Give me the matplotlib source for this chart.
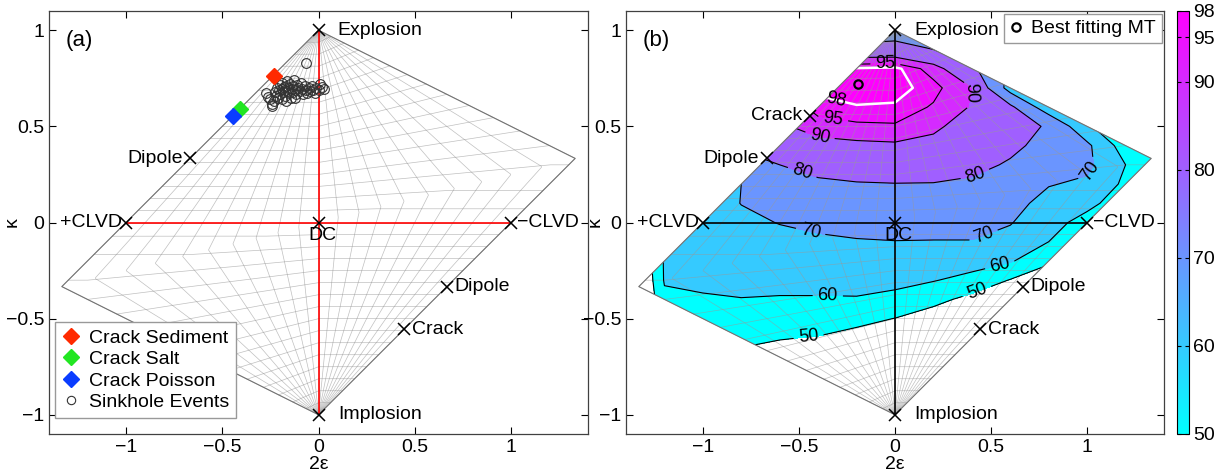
import numpy as np
import matplotlib
matplotlib.use("Agg")
from matplotlib import pyplot as plt
from matplotlib import colors
from matplotlib import cm
from matplotlib.patches import Polygon
from matplotlib.lines import Line2D

plt.rcParams['font.family'] = ['Liberation Sans', 'DejaVu Sans']
plt.rcParams['font.size'] = 14

# reference source types as normalised eigenvalues (m1 >= m2 >= m3)
source_names = ['Explosion', 'Implosion', '+CLVD', '\u2212CLVD', 'DC',
                'Dipole', 'Dipole', 'Crack', 'Crack']
source_eigs = [(1, 1, 1), (-1, -1, -1), (1, -0.5, -0.5), (0.5, 0.5, -1), (1, 0, -1),
               (1, 0, 0), (0, 0, -1), (1, 1/3, 1/3), (-1/3, -1/3, -1)]
# outline of the source-type plot (corners)
outline_eigs = [(1, 1, 1), (1, 1, -1), (-1, -1, -1), (1, -1, -1)]

# crack models and sinkhole event solutions (u = 2eps, v = kappa)
crack_names = ['Crack Sediment', 'Crack Salt', 'Crack Poisson']
crack_colors = ['#ff2a00', '#22e622', '#0a3cff']
crack_u = [-0.232, -0.406, -0.444]
crack_v = [0.764, 0.591, 0.556]

event_u = [-0.066, -0.275, -0.262, -0.250, -0.243, -0.240, -0.232, -0.225, -0.222, -0.215,
           -0.210, -0.205, -0.200, -0.198, -0.192, -0.188, -0.185, -0.180, -0.176, -0.172,
           -0.168, -0.165, -0.160, -0.157, -0.152, -0.148, -0.145, -0.140, -0.135, -0.130,
           -0.126, -0.120, -0.115, -0.110, -0.105, -0.098, -0.092, -0.085, -0.080, -0.072,
           -0.065, -0.058, -0.050, -0.042, -0.035, -0.028, -0.020, -0.012, 0.000, 0.008,
           -0.190, -0.170, -0.120, 0.020, 0.030]
event_v = [0.832, 0.672, 0.655, 0.640, 0.618, 0.606, 0.632, 0.680, 0.660, 0.700,
           0.645, 0.688, 0.715, 0.668, 0.695, 0.725, 0.678, 0.705, 0.690, 0.660,
           0.712, 0.735, 0.685, 0.700, 0.672, 0.720, 0.650, 0.695, 0.708, 0.680,
           0.742, 0.690, 0.668, 0.715, 0.700, 0.682, 0.725, 0.693, 0.670, 0.708,
           0.688, 0.672, 0.700, 0.685, 0.712, 0.690, 0.676, 0.700, 0.688, 0.718,
           0.640, 0.630, 0.645, 0.705, 0.695]

# waveform fit (%) over the source-type plane
fit_u = [-1.4, -1.2, -1.0, -0.8, -0.6, -0.4, -0.2, 0.0, 0.2, 0.4, 0.6, 0.8, 1.0, 1.2, 1.4]
fit_v = [1.0, 0.9, 0.8, 0.7, 0.6, 0.5, 0.4, 0.3, 0.2, 0.1, 0.0,
         -0.1, -0.2, -0.3, -0.4, -0.5, -0.6, -0.7, -0.8]
fit_pct = [
    [40, 40, 45, 55, 62, 68, 72, 75, 72, 65, 58, 50, 45, 40, 40],
    [40, 45, 52, 60, 68, 75, 84, 84, 80, 72, 64, 55, 45, 40, 40],
    [45, 55, 65, 78, 88, 96, 98.4, 99, 93, 82, 68, 55, 45, 40, 40],
    [48, 58, 70, 82, 93, 98.5, 99.5, 99.3, 96.5, 90, 66, 52, 45, 40, 40],
    [50, 60, 70, 80, 90, 97.3, 97.8, 97.6, 94.5, 89.5, 82, 64, 50, 42, 40],
    [52, 62, 72, 82, 89, 92.5, 94.2, 94.5, 91, 87.5, 82, 79.5, 62, 48, 40],
    [55, 65, 74, 82, 86, 88, 88.5, 89, 88.5, 85, 82, 77, 72, 55, 45],
    [55, 63, 70, 75, 80, 83, 84, 84.5, 84, 82.5, 79, 75, 72, 60, 50],
    [45, 58, 64, 70, 75.5, 78.5, 79.5, 79.8, 79.7, 78.5, 76, 70.5, 68.5, 58, 48],
    [42, 58, 65, 70.2, 73.5, 75.5, 76.5, 77, 76.5, 75, 73, 67, 63, 54, 45],
    [38, 58, 66, 68, 70.3, 72, 72.5, 73.5, 73, 72, 70.5, 64, 56, 45, 40],
    [32, 59, 64.5, 66, 67.5, 68.5, 69.5, 69.8, 69.7, 69.8, 67, 60, 50, 42, 40],
    [28, 61, 63, 64, 65, 65.5, 66, 66, 65.5, 64, 61, 52, 44, 40, 38],
    [25, 60.8, 62, 62, 62, 62, 62.5, 62.5, 60.5, 57, 49.5, 42, 38, 36, 35],
    [25, 58, 59, 59.8, 59.5, 59.5, 59.5, 57.5, 53, 47, 42, 38, 36, 35, 35],
    [25, 50, 54, 56, 55.5, 55, 52.5, 49.8, 45, 41, 38, 36, 35, 35, 35],
    [25, 45, 50, 52, 50.5, 49.5, 47, 44, 41, 38, 36, 35, 35, 35, 35],
    [25, 40, 45, 48, 46, 45, 43, 40, 38, 36, 35, 35, 35, 35, 35],
    [25, 38, 40, 42, 40, 40, 38, 36, 35, 35, 35, 35, 35, 35, 35],
]
fit_levels = [50, 60, 70, 80, 90, 95, 98]
best_u, best_v = -0.19, 0.72


def hudson(eigs):
    m = np.asarray(eigs, dtype=float)
    m = m / np.abs(m).max(axis=-1, keepdims=True)
    u = -2.0 / 3.0 * (m[..., 0] + m[..., 2] - 2 * m[..., 1])
    v = m.sum(axis=-1) / 3.0
    return u, v


def tk_to_uv(T, k):
    # eigenvalues for CLVD parameter T and isotropic fraction k
    d1 = np.where(T <= 0, 1.0, 1 - T / 2)
    d2 = T / 2
    d3 = np.where(T <= 0, -1 - T / 2, -1.0)
    a = 1 - np.abs(k)
    return hudson(np.stack([k + a * d1, k + a * d2, k + a * d3], axis=-1))


def draw_frame(ax, axis_color, grid_color, grid_alpha, ylabel_x):
    s = np.linspace(-1, 1, 801)
    for T in np.linspace(-1, 1, 21):
        u, v = tk_to_uv(np.full_like(s, T), s)
        ax.plot(u, v, color=grid_color, lw=0.5, alpha=grid_alpha, zorder=2)
    for k in np.arange(-15, 16) / 16:
        u, v = tk_to_uv(s, np.full_like(s, k))
        ax.plot(u, v, color=grid_color, lw=0.5, alpha=grid_alpha, zorder=2)
    ou, ov = hudson(outline_eigs)
    ax.plot(np.append(ou, ou[0]), np.append(ov, ov[0]), color='0.45', lw=0.8, zorder=3)
    ax.plot([0, 0], [-1, 1], color=axis_color, lw=1.2, zorder=4)
    ax.plot([-1, 1], [0, 0], color=axis_color, lw=1.2, zorder=4)

    ax.set_xlim(-1.4, 1.4)
    ax.set_ylim(-1.1, 1.1)
    ax.set_xticks([-1, -0.5, 0, 0.5, 1])
    ax.set_yticks([-1, -0.5, 0, 0.5, 1])
    ax.set_xticklabels(['\u22121', '\u22120.5', '0', '0.5', '1'])
    ax.set_yticklabels(['\u22121', '\u22120.5', '0', '0.5', '1'])
    ax.tick_params(direction='in', top=True, right=True, length=5, width=0.8, labelsize=14)
    for sp in ax.spines.values():
        sp.set_color('0.25')
        sp.set_linewidth(0.9)
    ax.set_xlabel('2\u03b5', labelpad=0)
    ax.set_ylabel('\u03ba')
    ax.yaxis.set_label_coords(ylabel_x, 0.5)
    return ou, ov


label_pos = {
    'Explosion': (0.1, 1.0, 'left', 'center'),
    'Implosion': (0.1, -1.0, 'left', 'center'),
    '+CLVD': (-1.02, 0.0, 'right', 'center'),
    '\u2212CLVD': (1.03, 0.0, 'left', 'center'),
    'DC': (0.02, -0.025, 'center', 'top'),
}


def draw_sources(ax, skip_upper_crack):
    su, sv = hudson(source_eigs)
    for name, u, v in zip(source_names, su, sv):
        if skip_upper_crack and name == 'Crack' and v > 0:
            continue
        ax.plot(u, v, 'x', color='k', ms=9, mew=1.1, zorder=6)
        if name in label_pos:
            x, y, ha, va = label_pos[name]
        elif v > 0:
            x, y, ha, va = u - 0.04, v, 'right', 'center'
        else:
            x, y, ha, va = u + 0.04, v, 'left', 'center'
        ax.text(x, y, name, ha=ha, va=va, fontsize=14, zorder=7)


fig = plt.figure(figsize=(12.21, 4.71), dpi=100)
ax_a = fig.add_axes([49 / 1221, 37 / 471, 539 / 1221, 423 / 471])
ax_b = fig.add_axes([626 / 1221, 37 / 471, 538 / 1221, 423 / 471])
cax = fig.add_axes([1177 / 1221, 37 / 471, 11.5 / 1221, 423 / 471])

# (a) crack models and sinkhole events
draw_frame(ax_a, 'red', '0.55', 0.55, -0.052)
draw_sources(ax_a, skip_upper_crack=True)
handles = []
for name, c, u, v in zip(crack_names, crack_colors, crack_u, crack_v):
    ax_a.plot(u, v, 'D', color=c, mec=c, ms=8.5, zorder=8)
    handles.append(Line2D([], [], ls='none', marker='D', color=c, mec=c, ms=8.5, label=name))
ax_a.plot(event_u, event_v, 'o', mfc='none', mec='0.2', ms=7, mew=0.8, zorder=7)
handles.append(Line2D([], [], ls='none', marker='o', mfc='none', mec='0.2', ms=6,
                      mew=0.8, label='Sinkhole Events'))
ax_a.legend(handles=handles, loc='lower left', bbox_to_anchor=(6 / 539, 16 / 423),
            borderaxespad=0, fancybox=False, edgecolor='0.6', framealpha=1,
            handlelength=0.9, handletextpad=0.5, labelspacing=0.2, borderpad=0.35,
            fontsize=14)
ax_a.text(0.03, 0.93, '(a)', transform=ax_a.transAxes, fontsize=16, va='center')

# (b) waveform fit over source types
cmap = plt.get_cmap('cool')
norm = colors.Normalize(50, 98)
band_levels = fit_levels + [100]
band_colors = [cmap(norm(l)) for l in fit_levels]
ou, ov = hudson(outline_eigs)
clip = Polygon(np.column_stack([ou, ov]), closed=True, transform=ax_b.transData,
               facecolor='none', edgecolor='none')
cf = ax_b.contourf(fit_u, fit_v, fit_pct, levels=band_levels, colors=band_colors, zorder=1)
cf.set_clip_path(clip)
cs = ax_b.contour(fit_u, fit_v, fit_pct, levels=fit_levels[:-1], colors='k',
                  linewidths=0.8, zorder=3)
cs.set_clip_path(clip)
cs98 = ax_b.contour(fit_u, fit_v, fit_pct, levels=[98], colors='white',
                    linewidths=1.8, zorder=3)
cs98.set_clip_path(clip)
draw_frame(ax_b, 'k', '0.6', 0.6, -0.041)
draw_sources(ax_b, skip_upper_crack=False)

ax_b.clabel(cs, fmt='%d', fontsize=13,
            manual=[(-0.45, -0.59), (0.43, -0.37), (-0.35, -0.39), (0.55, -0.24),
                    (-0.44, -0.05), (0.47, -0.09), (1.03, 0.26), (-0.48, 0.27),
                    (0.42, 0.24), (-0.39, 0.47), (0.40, 0.67), (-0.05, 0.826),
                    (-0.32, 0.55)])
ax_b.clabel(cs98, fmt='%d', fontsize=13, colors='k', inline=False, manual=[(-0.31, 0.62)])

ax_b.plot(best_u, best_v, 'o', mfc='none', mec='k', ms=6, mew=1.6, zorder=8)
best_handle = Line2D([], [], ls='none', marker='o', mfc='none', mec='k', ms=6, mew=1.6,
                     label='Best fitting MT')
ax_b.legend(handles=[best_handle], loc='upper right', bbox_to_anchor=(1 - 2 / 538, 1 - 3 / 423),
            borderaxespad=0, fancybox=False, edgecolor='0.6', framealpha=1,
            handlelength=0.6, handletextpad=0.5, borderpad=0.3, fontsize=14)
ax_b.text(0.03, 0.93, '(b)', transform=ax_b.transAxes, fontsize=16, va='center')

cb = fig.colorbar(cm.ScalarMappable(norm=norm, cmap=cmap), cax=cax, ticks=fit_levels)
cb.ax.tick_params(direction='in', left=True, right=True, length=3, width=0.8, labelsize=14)
cb.outline.set_linewidth(0.8)

fig.savefig('out.png', dpi=100)
